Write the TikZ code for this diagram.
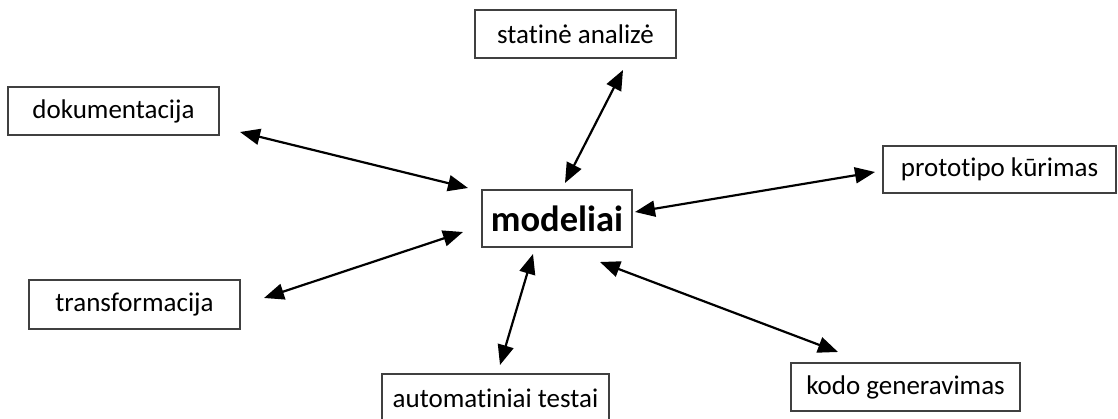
\documentclass[tikz,border=0pt]{standalone}
\usepackage{fontspec}
\setmainfont[Ligatures=NoCommon]{Carlito}
\usetikzlibrary{arrows.meta}

\tikzset{
  box/.style={draw=black!75, line width=1.4pt, fill=white, inner sep=0pt,
    font=\fontsize{27}{32}\selectfont, text=black},
  mainbox/.style={box, font=\fontsize{36.5}{42}\selectfont\bfseries},
  link/.style={line width=2.2pt, black,
    {Triangle[length=20pt,width=16pt]}-{Triangle[length=20pt,width=16pt]}}
}

\begin{document}
\begin{tikzpicture}[x=1pt, y=-1pt]
  \clip (0,0) rectangle (1118,419);
  \fill[white] (0,0) rectangle (1118,419);

  % boxes
  \node[mainbox, minimum width=150pt, minimum height=57pt] (mod) at (557,218.5) {modeliai};
  \node[box, minimum width=201pt, minimum height=48pt] (stat)  at (575.5,34)   {statinė analizė};
  \node[box, minimum width=211pt, minimum height=48pt] (dok)   at (113.5,111)  {dokumentacija};
  \node[box, minimum width=233pt, minimum height=47pt] (proto) at (999.5,169.5) {prototipo kūrimas};
  \node[box, minimum width=211pt, minimum height=49pt] (trans) at (134.5,304.5) {transformacija};
  \node[box, minimum width=227pt, minimum height=48pt] (auto)  at (495.5,398)  {automatiniai testai};
  \node[box, minimum width=229pt, minimum height=48pt] (kodo)  at (905.5,387)  {kodo generavimas};

  % arrow end points
  \coordinate (dokA) at (240,132);  \coordinate (dokB) at (468,188);
  \coordinate (trA)  at (264,298);  \coordinate (trB)  at (463,232);
  \coordinate (stA)  at (623,70);   \coordinate (stB)  at (565,183);
  \coordinate (auA)  at (533,254);  \coordinate (auB)  at (500,365);
  \coordinate (prA)  at (635,212);  \coordinate (prB)  at (875,172);
  \coordinate (koA)  at (600,262);  \coordinate (koB)  at (838,352);

  % two-way links
  \draw[link] (dokA) -- (dokB);
  \draw[link] (trA) -- (trB);
  \draw[link] (stA) -- (stB);
  \draw[link] (auA) -- (auB);
  \draw[link] (prA) -- (prB);
  \draw[link] (koA) -- (koB);
\end{tikzpicture}
\end{document}
